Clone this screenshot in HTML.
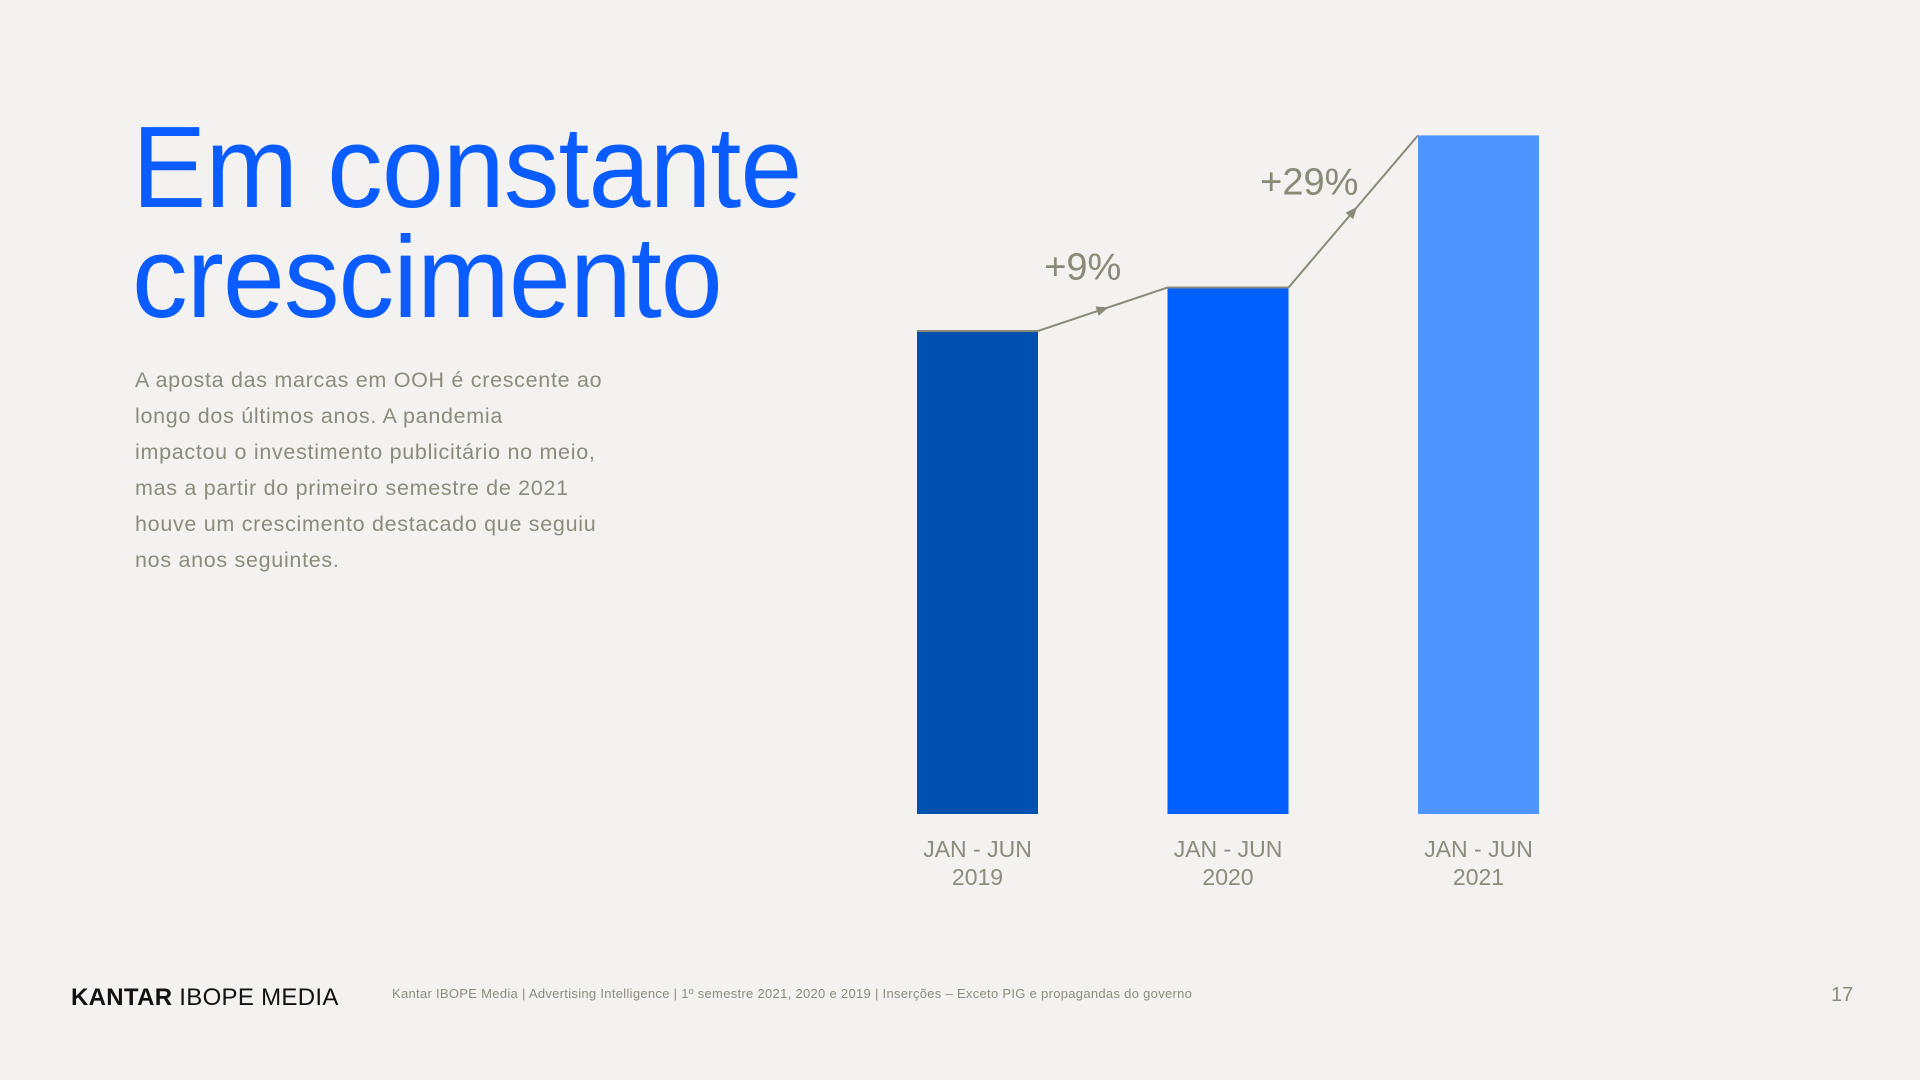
<!DOCTYPE html>
<html><head><meta charset="utf-8"><style>
body{margin:0;width:1920px;height:1080px;background:#f3f2f0;font-family:"Liberation Sans",sans-serif;overflow:hidden;position:relative}
.t{position:absolute;white-space:nowrap}
</style></head><body>
<div class="t" style="left:132px;top:112px;font-size:116px;line-height:110px;color:#0a5cff;font-weight:normal;letter-spacing:-1px;transform:scaleX(0.96);transform-origin:left">Em constante<br>crescimento</div>
<div class="t" style="left:135px;top:362px;font-size:21.5px;line-height:36px;color:#8c8b7c;letter-spacing:0.7px">A aposta das marcas em OOH é crescente ao<br>longo dos últimos anos. A pandemia<br>impactou o investimento publicitário no meio,<br>mas a partir do primeiro semestre de 2021<br>houve um crescimento destacado que seguiu<br>nos anos seguintes.</div>
<svg id="chart" width="1920" height="1080" style="position:absolute;left:0;top:0"></svg>
<div class="t" style="left:71px;top:984px;font-size:24px;color:#111;letter-spacing:0.3px"><b>KANTAR</b> IBOPE MEDIA</div>
<div class="t" style="left:392px;top:986px;font-size:13px;color:#8c8b7c;letter-spacing:0.3px">Kantar IBOPE Media | Advertising Intelligence | 1º semestre 2021, 2020 e 2019 | Inserções – Exceto PIG e propagandas do governo</div>
<div class="t" style="left:1831px;top:984px;font-size:20px;color:#8c8b7c">17</div>
<script>
const categories=["2019","2020","2021"];
const values=[100,109,140.5];
const growthLabels=["+9%","+29%"];
const colors=["#0050b0","#0060ff","#4f95ff"];
const NS="http://www.w3.org/2000/svg";
const svg=document.getElementById('chart');
const base=814,k=4.83,x0=917,step=250.5,bw=121;
const y=v=>base-v*k, x=i=>x0+i*step;
function el(t,a){const e=document.createElementNS(NS,t);for(const n in a)e.setAttribute(n,a[n]);svg.appendChild(e);return e;}
values.forEach((v,i)=>{
  const r=el('rect',{x:x(i),y:y(v),width:bw,height:base-y(v),fill:colors[i]});
  
  
  const t1=el('text',{x:x(i)+bw/2,y:857,'text-anchor':'middle','font-size':23,fill:'#8c8b7c','font-family':'Liberation Sans'});
  t1.textContent='JAN - JUN';
  
  
  const t2=el('text',{x:x(i)+bw/2,y:885,'text-anchor':'middle','font-size':23,fill:'#8c8b7c','font-family':'Liberation Sans'});
  t2.textContent=categories[i];
  
  
});
let pts=[];
values.forEach((v,i)=>{pts.push([x(i),y(v)]);pts.push([x(i)+bw,y(v)]);});
const pl=el('polyline',{points:pts.slice(0,5).map(p=>p.join(',')).join(' '),fill:'none',stroke:'#8a8a78','stroke-width':2});


const labDx=[-20,-44], labDy=[-30,-17];
for(let i=0;i<2;i++){
  const a=[x(i)+bw,y(values[i])],b=[x(i+1),y(values[i+1])];
  const mx=(a[0]+b[0])/2,my=(a[1]+b[1])/2,ang=Math.atan2(b[1]-a[1],b[0]-a[0])*180/Math.PI;
  const ar=el('polygon',{points:'6,0 -6,-5 -6,5',fill:'#8a8a78',transform:`translate(${mx},${my}) rotate(${ang})`});
  
  
  const g=el('text',{x:mx+labDx[i],y:my+labDy[i],'text-anchor':'middle','font-size':38,fill:'#8a8a78','font-family':'Liberation Sans'});
  g.textContent=growthLabels[i];
  
  
}
</script>
</body></html>
